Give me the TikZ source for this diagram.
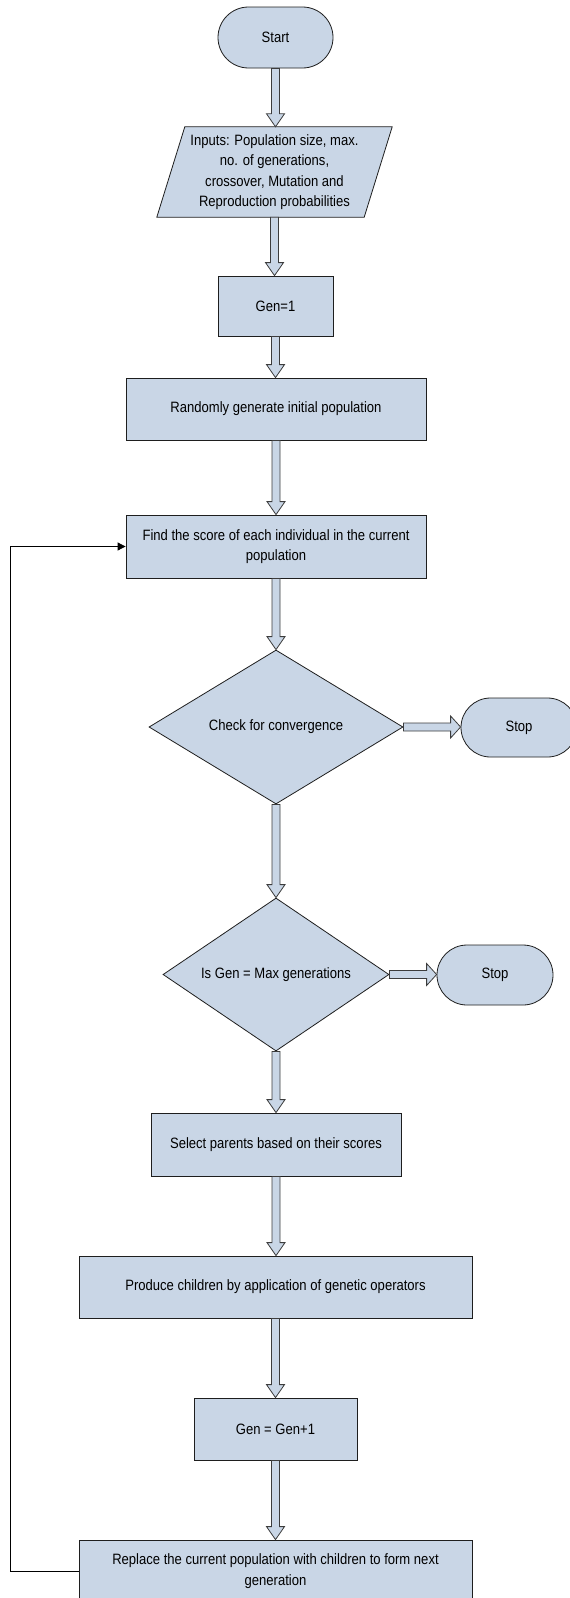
\documentclass[tikz,border=0pt]{standalone}
\usepackage{fontspec}
\setmainfont[FakeStretch=0.87]{Liberation Sans}
\usetikzlibrary{shapes.geometric,shapes.misc,arrows.meta,calc}
\pgfdeclarelayer{bg}
\pgfsetlayers{bg,main}
\definecolor{boxfill}{RGB}{201,214,230}
\definecolor{boxline}{RGB}{30,30,30}
\definecolor{arrline}{RGB}{60,60,60}
\newcommand\varrow[2]{\path[fill=boxfill,draw=arrline,line width=0.8pt] let \p1=(#1), \p2=(#2) in (\x1-4pt,\y1) -- (\x1-4pt,\y2+13pt) -- (\x1-9pt,\y2+13pt) -- (\x1,\y2) -- (\x1+9pt,\y2+13pt) -- (\x1+4pt,\y2+13pt) -- (\x1+4pt,\y1) -- cycle;}
\newcommand\harrow[2]{\path[fill=boxfill,draw=arrline,line width=0.8pt] let \p1=(#1), \p2=(#2) in (\x1,\y1+4pt) -- (\x2-10pt,\y1+4pt) -- (\x2-10pt,\y1+11pt) -- (\x2,\y1) -- (\x2-10pt,\y1-11pt) -- (\x2-10pt,\y1-4pt) -- (\x1,\y1-4pt) -- cycle;}
\tikzset{
  base/.style={fill=boxfill, draw=boxline, line width=0.8pt, align=center, inner sep=0pt, font=\fontsize{15}{20.5}\selectfont},
  proc/.style={base, rectangle},
  term/.style={base, rounded rectangle},
  dec/.style={base, diamond},
  plain/.style={align=center, inner sep=0pt, font=\fontsize{15}{20.5}\selectfont},
  back/.style={line width=0.8pt, draw=black, -{Triangle[length=8pt,width=8pt]}}
}
\begin{document}
\begin{tikzpicture}[x=1pt,y=-1pt]
\useasboundingbox (0,0) rectangle (570,1598);
\node[term, minimum width=115, minimum height=61] (start) at (275.5,37.5) {Start};
\node[plain, minimum width=207, minimum height=90] (inp) at (274.5,172) {Inputs: Population size, max.\\no. of generations,\\crossover, Mutation and\\Reproduction probabilities};
\begin{pgfonlayer}{bg}
\path[fill=boxfill, draw=boxline, line width=0.8pt] ($(inp.north west)+(14,0)$) -- ($(inp.north east)+(14,0)$) -- ($(inp.south east)+(-14,0)$) -- ($(inp.south west)+(-14,0)$) -- cycle;
\end{pgfonlayer}
\node[proc, minimum width=115, minimum height=60] (gen1) at (275.5,306) {Gen=1};
\node[proc, minimum width=300, minimum height=62] (rand) at (276,409) {Randomly generate initial population};
\node[proc, minimum width=300, minimum height=63] (find) at (276,546.5) {Find the score of each individual in the current\\population};
\node[dec, minimum width=254, minimum height=154, aspect=1.65] (conv) at (276,727) {Check for convergence};
\node[term, minimum width=116, minimum height=59] (stop1) at (519,727.5) {Stop};
\node[dec, minimum width=226, minimum height=153, aspect=1.48] (maxg) at (276,974.5) {Is Gen = Max generations};
\node[term, minimum width=116, minimum height=60] (stop2) at (495,975) {Stop};
\node[proc, minimum width=250, minimum height=63] (sel) at (276,1144.5) {Select parents based on their scores};
\node[proc, minimum width=393, minimum height=62] (prod) at (275.5,1287) {Produce children by application of genetic operators};
\node[proc, minimum width=163, minimum height=62] (inc) at (275.5,1429) {Gen = Gen+1};
\node[proc, minimum width=393, minimum height=62] (rep) at (275.5,1571) {Replace the current population with children to form next\\generation};
\coordinate (lp) at (10,1571);
\varrow{start.south}{inp.north}
\varrow{inp.south}{gen1.north}
\varrow{gen1.south}{rand.north}
\varrow{rand.south}{find.north}
\varrow{find.south}{conv.north}
\varrow{conv.south}{maxg.north}
\varrow{maxg.south}{sel.north}
\varrow{sel.south}{prod.north}
\varrow{prod.south}{inc.north}
\varrow{inc.south}{rep.north}
\harrow{conv.east}{stop1.west}
\harrow{maxg.east}{stop2.west}
\draw[back] (rep.west) -- (lp) |- (find.west);
\end{tikzpicture}
\end{document}
